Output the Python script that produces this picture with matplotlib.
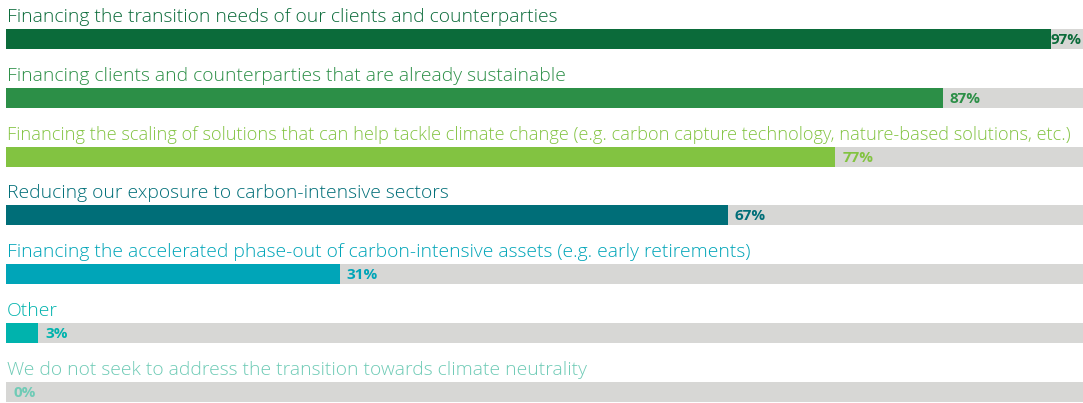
import matplotlib
matplotlib.use("Agg")
import matplotlib.pyplot as plt

categories = [
    "Financing the transition needs of our clients and counterparties",
    "Financing clients and counterparties that are already sustainable",
    "Financing the scaling of solutions that can help tackle climate change (e.g. carbon capture technology, nature-based solutions, etc.)",
    "Reducing our exposure to carbon-intensive sectors",
    "Financing the accelerated phase-out of carbon-intensive assets (e.g. early retirements)",
    "Other",
    "We do not seek to address the transition towards climate neutrality",
]
values = [97, 87, 77, 67, 31, 3, 0]
colors = ["#0b6b3a", "#2c8f47", "#82c341", "#006e78", "#00a5b8", "#00b3ad", "#6fcbb6"]

W, H = 1083, 403
fig = plt.figure(figsize=(W / 100, H / 100), dpi=100)
x0 = 6
ax = fig.add_axes([x0 / W, 0, (W - x0) / W, 1])
ax.set_xlim(0, 100)
ax.set_ylim(H, 0)
ax.axis("off")

px = 100 / (W - x0)  # data units per pixel
step = 58.8
first = 39
bar_h = 20

for i, (cat, v, c) in enumerate(zip(categories, values, colors)):
    yc = first + i * step
    ax.barh(yc, 100, height=bar_h, color="#d7d7d5", linewidth=0)
    ax.barh(yc, v, height=bar_h, color=c, linewidth=0)
    lx = v + 7 * px
    # keep the label inside the figure when the bar is nearly full
    if lx + 30 * px > 100:
        ax.text(99.85, yc + 1, f"{v}%", color=c, fontsize=11, fontweight="bold",
                family="Open Sans", va="center", ha="right")
    else:
        ax.text(lx, yc + 1, f"{v}%", color=c, fontsize=11, fontweight="bold",
                family="Open Sans", va="center", ha="left")
    fs = 13.15 if len(cat) > 100 else 13.85
    ax.text(0.1, yc - 22, cat, color=c, fontsize=fs, family="Open Sans",
            fontweight="light", va="center", ha="left")

fig.savefig("out.png", dpi=100)
